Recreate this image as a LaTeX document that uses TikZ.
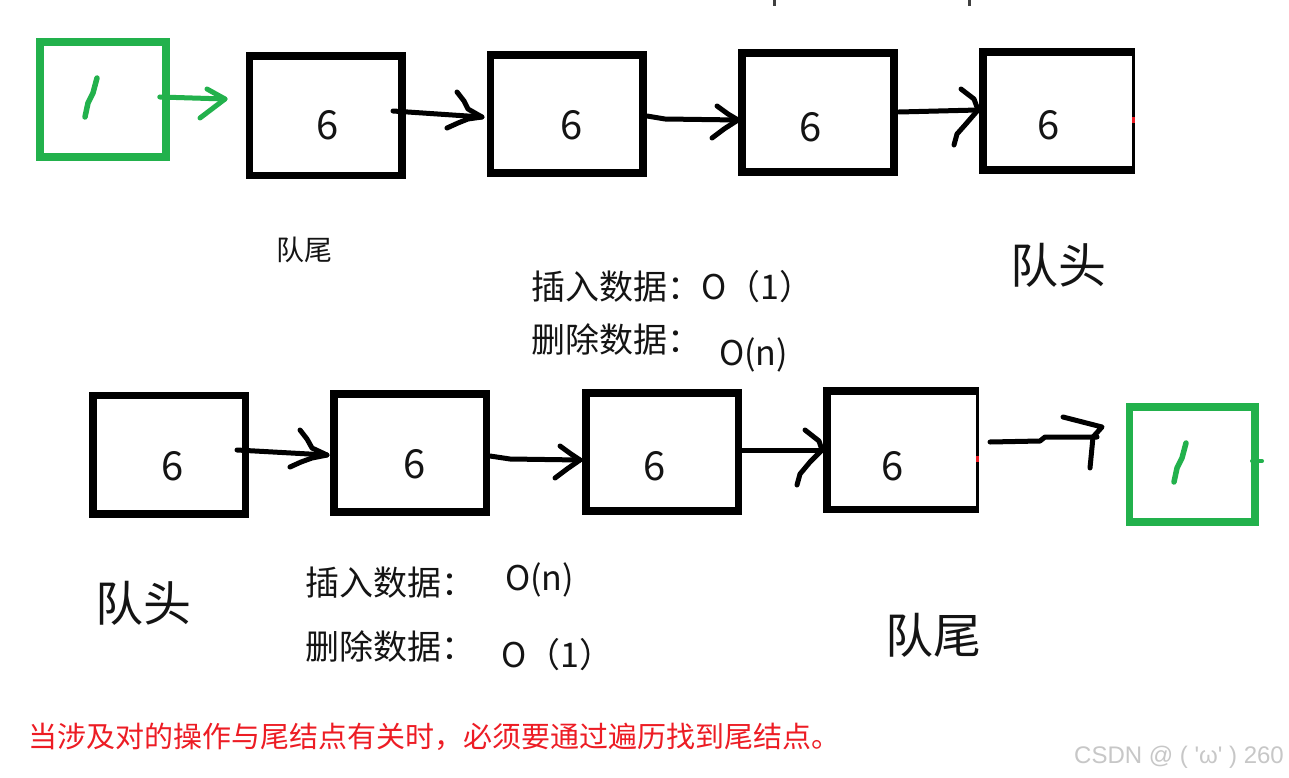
\documentclass[tikz,border=0pt]{standalone}
\usepackage{fontspec}
\newfontfamily\cjk{Noto Sans CJK SC}
\newfontfamily\wmfont{Liberation Sans}
\usetikzlibrary{calc}
\definecolor{pgreen}{RGB}{34,177,76}
\definecolor{pred}{RGB}{237,28,36}
\definecolor{inkc}{RGB}{20,20,20}
\begin{document}
\begin{tikzpicture}[x=1pt,y=-1pt,
  box/.style={draw=black, line width=7.5pt, minimum width=152.5pt, minimum height=118.5pt, inner sep=0pt, outer sep=0pt},
  openbox/.style={draw=none, minimum width=150pt, minimum height=118.5pt, inner sep=0pt, outer sep=0pt},
  gbox/.style={draw=pgreen, line width=7.5pt, minimum width=126pt, minimum height=115pt, inner sep=0pt, outer sep=0pt},
  hand/.style={line width=5pt, line cap=round, line join=round},
  dig/.style={font=\cjk\fontsize{40}{44}\selectfont, text=inkc, inner sep=0pt, anchor=base},
  txt/.style={font=\cjk\fontsize{34}{40}\selectfont, text=inkc, inner sep=0pt, anchor=west},
  big/.style={font=\cjk\fontsize{48}{54}\selectfont, text=inkc, inner sep=0pt, anchor=west},
  small/.style={font=\cjk\fontsize{28}{32}\selectfont, text=inkc, inner sep=0pt, anchor=west},
]
\useasboundingbox (0,0) rectangle (1289,778);
\fill[white] (0,0) rectangle (1289,778);

% ---------- top row ----------
\node[gbox] (g1) at (102.75,99.75) {};
\node[box, minimum height=119.5pt] (t1) at (325.75,115.75) {};
\node[box, minimum height=118pt] (t2) at (566.75,114) {};
\node[box, minimum width=152pt, minimum height=119pt] (t3) at (818,112.5) {};
\node[openbox, minimum height=118pt] (t4) at (1058,111) {};
\draw[line width=7.5pt] ([xshift=1.5pt]t4.north east) -- (t4.north west) -- (t4.south west) -- ([xshift=1.5pt]t4.south east);
\draw[line width=3pt] (t4.north east) -- (t4.south east);
\fill[pred] ($(t4.east)+(-1.5,6)$) rectangle ($(t4.east)+(1.5,12)$);

\node[dig] (t1v) at ($(t1.center)+(2.25,24.25)$) {6};
\node[dig] (t2v) at ($(t2.center)+(5.25,26)$) {6};
\node[dig] (t3v) at ($(t3.center)+(-7,29.5)$) {6};
\node[dig] (t4v) at ($(t4.center)+(-9,29)$) {6};

% green "1"
\draw[hand, pgreen, line width=5.5pt] ($(g1.center)+(-5.75,-21.75)$) -- ($(g1.center)+(-9.75,-6.75)$) -- ($(g1.center)+(-14.75,3.25)$) -- ($(g1.center)+(-17.75,17.25)$);

% green arrow g1 -> t1
\draw[hand, pgreen] ($(g1.east)+(-6,-2.75)$) -- ($(t1.west)+(-24.5,-16.75)$) coordinate (gtip);
\draw[hand, pgreen] ($(gtip)+(-18,-10)$) -- (gtip) -- ($(gtip)+(-25,19)$);

% t1 -> t2
\draw[hand] ($(t1.east)+(-9,-4.75)$) -- ($(t2.west)+(-8.5,3)$) coordinate (a1);
\draw[hand] ($(a1)+(-25,-25)$) -- ($(a1)+(-18,-16)$) -- ($(a1)+(-14,-8)$) -- (a1) -- ($(a1)+(-14,2)$) -- ($(a1)+(-24,6)$) -- ($(a1)+(-35,11)$);

% t2 -> t3
\draw[hand] ($(t2.east)+(4,2)$) -- ($(t2.east)+(22,5)$) -- ($(t3.west)+(-4,7.5)$) coordinate (a2);
\draw[hand] ($(a2)+(-21,-14)$) -- ($(a2)+(-10,-6)$) -- (a2) -- ($(a2)+(-14,9)$) -- ($(a2)+(-26,18)$);

% t3 -> t4
\draw[hand] ($(t3.east)+(5,-0.5)$) -- ($(t4.west)+(-5,-1)$) coordinate (a3);
\draw[hand] ($(a3)+(-17,-21)$) -- ($(a3)+(-4,-11)$) -- (a3) -- ($(a3)+(-13,15)$) -- ($(a3)+(-21,24)$) -- ($(a3)+(-24,35)$);

% top tick marks
\draw[line width=3pt, black!75] (774,0) -- (774,6);
\draw[line width=3pt, black!75] (969,0) -- (969,6);

% ---------- bottom row ----------
\node[box] (b1) at (169.25,454.75) {};
\node[box, minimum height=118pt] (b2) at (410.25,453) {};
\node[box, minimum height=118pt] (b3) at (662.25,452) {};
\node[openbox] (b4) at (902,450.25) {};
\draw[line width=7.5pt] ([xshift=1.5pt]b4.north east) -- (b4.north west) -- (b4.south west) -- ([xshift=1.5pt]b4.south east);
\draw[line width=3pt] (b4.north east) -- (b4.south east);
\fill[pred] ($(b4.east)+(-1.5,5.75)$) rectangle ($(b4.east)+(1.5,11.75)$);
\node[gbox, minimum width=125.5pt] (g2) at (1192.25,464.5) {};

\node[dig] (b1v) at ($(b1.center)+(3.75,25.25)$) {6};
\node[dig] (b2v) at ($(b2.center)+(4.75,25)$) {6};
\node[dig] (b3v) at ($(b3.center)+(-7.25,28)$) {6};
\node[dig] (b4v) at ($(b4.center)+(-9,29.75)$) {6};

\draw[hand, pgreen, line width=5.5pt] ($(g2.center)+(-6.25,-21.5)$) -- ($(g2.center)+(-10.25,-6.5)$) -- ($(g2.center)+(-15.25,3.5)$) -- ($(g2.center)+(-18.25,17.5)$);
\draw[hand, pgreen, line width=4pt] ($(g2.east)+(-3,-3.5)$) -- ($(g2.east)+(7,-3.5)$);

% b1 -> b2
\draw[hand] ($(b1.east)+(-8.5,-4.75)$) -- ($(b2.west)+(-7,2)$) coordinate (c1);
\draw[hand] ($(c1)+(-27,-25)$) -- ($(c1)+(-20,-16)$) -- ($(c1)+(-15,-7)$) -- (c1) -- ($(c1)+(-15,3)$) -- ($(c1)+(-26,7)$) -- ($(c1)+(-37,12)$);

% b2 -> b3
\draw[hand] ($(b2.east)+(3.5,3)$) -- ($(b2.east)+(23.5,6)$) -- ($(b3.west)+(-6,8)$) coordinate (c2);
\draw[hand] ($(c2)+(-20,-14)$) -- ($(c2)+(-9,-6)$) -- (c2) -- ($(c2)+(-13,9)$) -- ($(c2)+(-25,18)$);

% b3 -> b4
\draw[hand] ($(b3.east)+(3.5,-2)$) -- ($(b4.west)+(-5,-0.25)$) coordinate (c3);
\draw[hand] ($(c3)+(-17,-20)$) -- ($(c3)+(-3,-9)$) -- (c3) -- ($(c3)+(-12,12)$) -- ($(c3)+(-22,24)$) -- ($(c3)+(-25,35)$);

% b4 -> g2 (hooked stroke)
\coordinate (c4) at ($(g2.west)+(-32.5,-27.5)$);
\draw[hand] ($(b4.east)+(13,-8.25)$) -- ($(c4)+(-57,4)$) -- ($(c4)+(-52,0)$) -- (c4);
\draw[hand] ($(c4)+(-34,-20)$) -- ($(c4)+(5,-10)$) -- ($(c4)+(-4,0)$) -- ($(c4)+(-7,31)$);

% ---------- labels ----------
\node[small] (qw1) at (276,250) {队尾};
\node[big] (qt1) at (1010,265) {队头};
\node[txt] (ins1) at (531,287) {插入数据：O（1）};
\node[txt] (del1) at (531,340) {删除数据：};
\node[txt] (on1) at (719,355) {O(n)};

\node[big] (qt2) at (95,603) {队头};
\node[txt] (ins2) at (305,583) {插入数据：};
\node[txt] (on2) at (505,580) {O(n)};
\node[txt] (del2) at (305,647) {删除数据：};
\node[txt] (o12) at (501,655) {O（1）};
\node[big] (qw2) at (885,635) {队尾};

\node[font=\cjk\fontsize{29}{34}\selectfont, text=pred, inner sep=0pt, anchor=west] (note) at (28,737) {当涉及对的操作与尾结点有关时，必须要通过遍历找到尾结点。};
\node[font=\wmfont\fontsize{24}{28}\selectfont, text=black!22, inner sep=0pt, anchor=east] (wm) at (1284,757) {CSDN @ ( 'ω' ) 260};
\end{tikzpicture}
\end{document}
